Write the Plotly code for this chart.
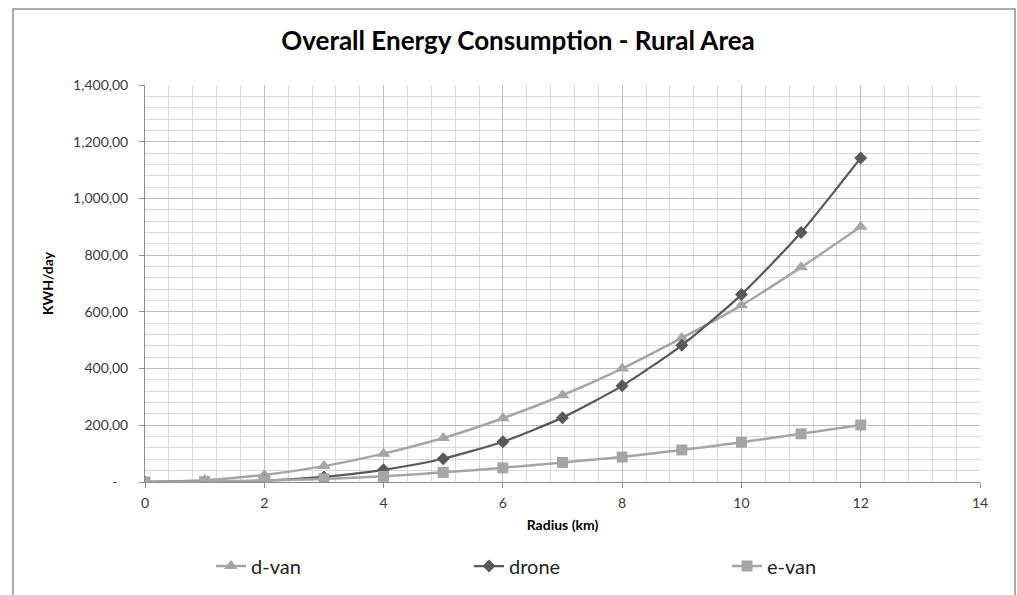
import plotly.graph_objects as go

# Radius (km)
radius = [0, 1, 2, 3, 4, 5, 6, 7, 8, 9, 10, 11, 12]

# Daily energy use (KWH/day) per delivery mode
d_van = [0, 6, 25, 56, 100, 155, 225, 306, 400, 508, 623, 757, 900]
drone = [0, 1, 5, 18, 43, 82, 142, 227, 339, 482, 661, 880, 1143]
e_van = [0, 1.5, 5, 11, 20, 34, 50, 69, 88, 113, 140, 170, 201]

# y-axis tick labels (accounting style, zero shown as a dash)
y_tickvals = [0, 200, 400, 600, 800, 1000, 1200, 1400]
y_ticktext = ["-\u00a0\u00a0\u00a0", "200,00", "400,00", "600,00", "800,00",
              "1,000,00", "1,200,00", "1,400,00"]

LIGHT = "#a5a5a5"
DARK = "#595959"
TEXT = "#3a3a3a"
FONT = "Lato"

fig = go.Figure()
fig.add_trace(go.Scatter(
    x=radius, y=d_van, name="d-van", mode="lines+markers",
    line=dict(color=LIGHT, width=2.5, shape="spline", smoothing=0.6),
    marker=dict(symbol="triangle-up", size=12, color=LIGHT),
))
fig.add_trace(go.Scatter(
    x=radius, y=drone, name="drone", mode="lines+markers",
    line=dict(color=DARK, width=2.25, shape="spline", smoothing=0.6),
    marker=dict(symbol="diamond", size=10, color=DARK),
))
fig.add_trace(go.Scatter(
    x=radius, y=e_van, name="e-van", mode="lines+markers",
    line=dict(color=LIGHT, width=2.5, shape="spline", smoothing=0.6),
    marker=dict(symbol="square", size=11, color=LIGHT),
))

L, R, T, B = 145, 37, 85, 113
W, H = 1017, 595
pw, ph = W - L - R, H - T - B

fig.update_layout(
    width=W, height=H,
    margin=dict(l=L, r=R, t=T, b=B, autoexpand=False),
    paper_bgcolor="white", plot_bgcolor="white",
    font=dict(family=FONT, color=TEXT, size=14),
    title=dict(
        text="<b>Overall Energy Consumption - Rural Area</b>",
        x=518 / W, xref="container", xanchor="center",
        y=1 - 41 / H, yanchor="middle",
        font=dict(family=FONT, size=26, color="#000000"),
    ),
    showlegend=True,
    legend=dict(
        orientation="h", x=(211 - L) / pw, xanchor="left",
        y=(482 - 566) / ph, yanchor="middle",
        font=dict(family=FONT, size=20, color="#1f1f1f"),
        entrywidth=213, entrywidthmode="pixels",
        bgcolor="rgba(0,0,0,0)",
    ),
    xaxis=dict(
        range=[0, 14], dtick=2, tick0=0,
        showgrid=True, gridcolor="#bdbdbd", gridwidth=1,
        minor=dict(dtick=0.4, tick0=0, showgrid=True, gridcolor="#d9d9d9", gridwidth=1),
        ticks="outside", ticklen=5, tickcolor="#8c8c8c",
        showline=True, linecolor="#8c8c8c", linewidth=1,
        zeroline=False, tickfont=dict(size=14, color=TEXT),
        ticklabelstandoff=3,
        title=dict(text="<b>Radius (km)</b>", standoff=10,
                   font=dict(size=14, color="#000000")),
        fixedrange=True,
    ),
    yaxis=dict(
        range=[0, 1400], tickmode="array", tickvals=y_tickvals, ticktext=y_ticktext,
        showgrid=True, gridcolor="#bdbdbd", gridwidth=1,
        minor=dict(tickmode="linear", dtick=40, tick0=0, showgrid=True,
                   gridcolor="#d9d9d9", gridwidth=1),
        ticks="outside", ticklen=5, tickcolor="#8c8c8c",
        showline=True, linecolor="#8c8c8c", linewidth=1,
        zeroline=False, tickfont=dict(size=14, color=TEXT),
        ticklabelstandoff=8,
        title=dict(text="<b>KWH/day</b>", standoff=16,
                   font=dict(size=14, color="#000000")),
        fixedrange=True,
    ),
)

# outer chart frame
fig.add_shape(
    type="rect", xref="paper", yref="paper", layer="below",
    x0=(13 - L) / pw, x1=(1015 - L) / pw,
    y0=(482 - 620) / ph, y1=(482 - 9) / ph,
    line=dict(color="#8f8f8f", width=1.5), fillcolor="rgba(0,0,0,0)",
)

fig.write_html("out.html")
